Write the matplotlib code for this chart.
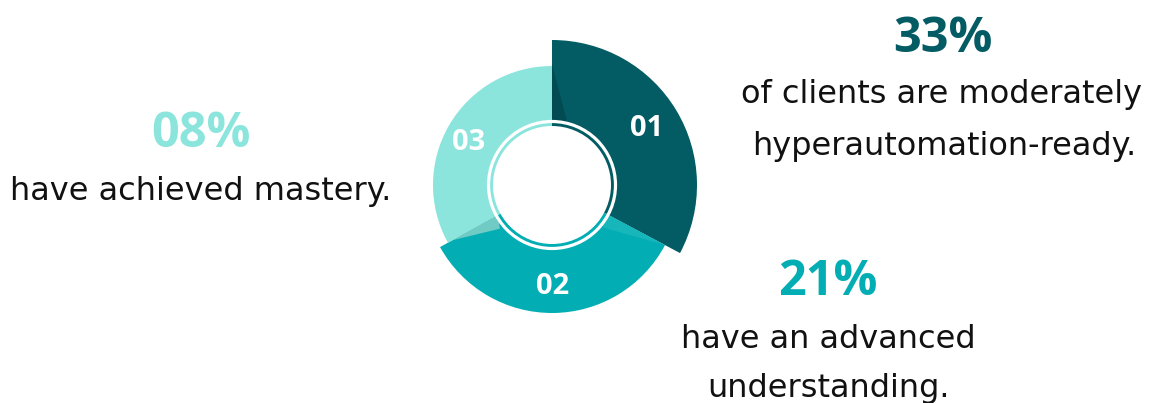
import numpy as np
import matplotlib.pyplot as plt
from matplotlib.patches import Circle, Polygon

W, H = 1149, 403

# data
segment_ids = ["01", "02", "03"]
segment_spans = [118, 123, 119]          # degrees of each ring piece
percent_labels = ["33%", "21%", "08%"]
caption_lines = [
    ["of clients are moderately", "hyperautomation-ready."],
    ["have an advanced", "understanding."],
    ["have achieved mastery."],
]
colors = ["#035b63", "#02adb3", "#8be5dc"]

# layout (pixels, y from top)
cx, cy = 552, 185
r_in = 58
outer_r = [145, 128, 119]
pct_pos = [(943, 52), (828, 295), (201, 147)]
cap_pos = [[(942, 103), (944, 155)], [(828, 348), (828, 397)], [(201, 200)]]

BODY = "DejaVu Sans"
BOLD = "Open Sans"


def py(y):
    return H - y


fig = plt.figure(figsize=(W / 100, H / 100), dpi=100)
ax = fig.add_axes([0, 0, 1, 1])

wedges, _ = ax.pie(segment_spans, startangle=90, counterclock=False,
                   colors=colors, center=(cx, py(cy)), radius=outer_r[0],
                   frame=True, wedgeprops=dict(linewidth=0))
for w, R in zip(wedges, outer_r):
    w.set_radius(R)
    w.set_width(R - r_in)


def pt(r, a):
    a = np.deg2rad(a)
    return (cx + r * np.cos(a), py(cy) + r * np.sin(a))


# folded-ribbon shading at the joins
t1_a, t2_a = wedges[0].theta2, wedges[0].theta1   # start (90) and end of 01
b_end = wedges[1].theta1                           # end of 02
shades = [
    ([pt(62, t1_a), pt(121, t1_a), pt(66, t1_a - 13)], "#034b53"),
    ([pt(62, t2_a), pt(127, t2_a), pt(66, t2_a - 12)], "#16b6ba"),
    ([pt(62, b_end), pt(114, b_end), pt(68, b_end + 11)], "#70cbc5"),
]
for verts, c in shades:
    ax.add_patch(Polygon(verts, closed=True, facecolor=c, edgecolor="none", zorder=2))

# inner white disk and ring
ax.add_patch(Circle((cx, py(cy)), 59, facecolor="white", edgecolor="none", zorder=3))
ax.add_patch(Circle((cx, py(cy)), 63.5, facecolor="none", edgecolor="white",
                    linewidth=2.3, zorder=3))

# segment numbers
label_off = [(9, 0), (9, 0), (5, 3.5)]   # (radial px, degrees)
for w, R, lab, (dr, da) in zip(wedges, outer_r, segment_ids, label_off):
    mid = (w.theta1 + w.theta2) / 2 + da
    x, y = pt((r_in + R) / 2 + dr, mid)
    ax.text(x, y, lab, color="white", fontsize=21, fontweight="bold",
            family=BOLD, ha="center", va="center", zorder=4)

# percentages and captions
for pct, (px, pyy), c, lines, pos in zip(percent_labels, pct_pos, colors,
                                          caption_lines, cap_pos):
    ax.text(px, py(pyy), pct, color=c, fontsize=35, fontweight="bold",
            family=BOLD, ha="center", va="baseline")
    for line, (lx, ly) in zip(lines, pos):
        ax.text(lx, py(ly), line, color="#111111", fontsize=23,
                family=BODY, ha="center", va="baseline")

ax.set_xlim(0, W)
ax.set_ylim(0, H)
ax.set_aspect("equal")
ax.axis("off")

fig.savefig("out.png", dpi=100, facecolor="white")
